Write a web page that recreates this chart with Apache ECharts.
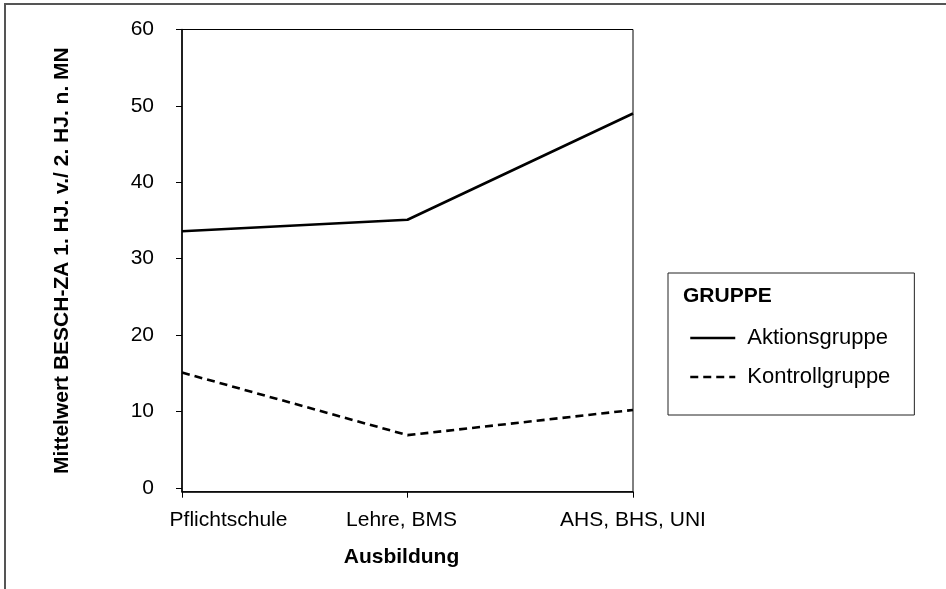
<!DOCTYPE html>
<html>
<head>
<meta charset="utf-8">
<script src="https://cdn.jsdelivr.net/npm/echarts@6/dist/echarts.min.js"></script>
<style>
html,body{margin:0;padding:0;background:#fff;}
#chart{position:absolute;left:0;top:0;width:946px;height:589px;}
#frame{position:absolute;left:4px;top:3px;width:950px;height:600px;border-top:2px solid #555;border-left:2px solid #555;pointer-events:none;}
</style>
</head>
<body>
<div id="chart"></div>
<div id="frame"></div>
<script>
const categories = ['Pflichtschule', 'Lehre, BMS', 'AHS, BHS, UNI'];
const aktionsgruppe = [33.6, 35.1, 49.0];
const kontrollgruppe = [15.1, 6.9, 10.2];
const seriesNames = ['Aktionsgruppe', 'Kontrollgruppe'];
const yAxisTitle = 'Mittelwert BESCH-ZA 1. HJ. v./ 2. HJ. n. MN';
const xAxisTitle = 'Ausbildung';
const legendTitle = 'GRUPPE';

const FONT = '"Liberation Sans", Arial, sans-serif';
const chart = echarts.init(document.getElementById('chart'), null, {renderer: 'canvas'});
chart.setOption({
  animation: false,
  backgroundColor: '#fff',
  title: {
    text: legendTitle,
    left: 683, top: 286,
    padding: 0,
    textStyle: {fontFamily: FONT, fontSize: 21, fontWeight: 'bold', color: '#000'}
  },
  legend: {
    data: seriesNames,
    orient: 'vertical',
    left: 668, top: 273,
    padding: [54, 24, 27, 21],
    itemGap: 17,
    itemWidth: 45, itemHeight: 14,
    itemStyle: {opacity: 0},
    lineStyle: {width: 2.5},
    borderColor: '#222', borderWidth: 1,
    textStyle: {fontFamily: FONT, fontSize: 22, color: '#000', padding: [0, 0, 0, 7]}
  },
  grid: {
    left: 182, right: 313, top: 29.5, bottom: 97.3,
    show: true, borderColor: '#000', borderWidth: 1, containLabel: false
  },
  xAxis: {
    type: 'category',
    data: categories,
    boundaryGap: false,
    name: xAxisTitle,
    nameLocation: 'middle',
    nameGap: 55,
    nameTextStyle: {fontFamily: FONT, fontSize: 21, fontWeight: 'bold', color: '#000', padding: [0, 12, 0, 0]},
    axisLine: {onZero: false, lineStyle: {color: '#000', width: 1.5}},
    axisTick: {show: true, length: 6, lineStyle: {color: '#000'}},
    axisLabel: {
      fontFamily: FONT, fontSize: 21, color: '#000', margin: 18,
      formatter: function (v, i) {
        if (i === 0) return '{a|' + v + '}';
        if (i === 1) return '{b|' + v + '}';
        return v;
      },
      rich: {
        a: {fontFamily: FONT, fontSize: 21, color: '#000', padding: [0, 0, 0, 93]},
        b: {fontFamily: FONT, fontSize: 21, color: '#000', padding: [0, 12, 0, 0]}
      }
    },
    splitLine: {show: false}
  },
  yAxis: {
    type: 'value',
    min: -0.5, max: 60, splitNumber: 6,
    name: yAxisTitle,
    nameLocation: 'middle',
    nameGap: 109,
    nameTextStyle: {fontFamily: FONT, fontSize: 21, fontWeight: 'bold', color: '#000'},
    axisLine: {show: true, onZero: false, lineStyle: {color: '#000', width: 1.5}},
    axisTick: {show: true, length: 6, lineStyle: {color: '#000'}},
    axisLabel: {fontFamily: FONT, fontSize: 21, color: '#000', margin: 28, showMinLabel: false},
    splitLine: {show: false}
  },
  series: [
    {
      name: seriesNames[0], type: 'line', data: aktionsgruppe,
      symbol: 'none',
      lineStyle: {color: '#000', width: 2.6, type: 'solid'},
      itemStyle: {color: '#000'}
    },
    {
      name: seriesNames[1], type: 'line', data: kontrollgruppe,
      symbol: 'none',
      lineStyle: {color: '#000', width: 2.6, type: [8, 5]},
      itemStyle: {color: '#000'}
    }
  ]
});
</script>
</body>
</html>
